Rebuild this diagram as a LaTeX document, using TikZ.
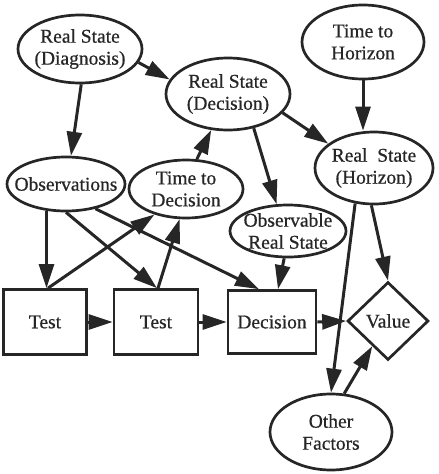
\documentclass[tikz,border=0pt]{standalone}
\usepackage{fontspec}
\setmainfont{Liberation Serif}
\newfontfamily\lblfont[FakeBold=0.6]{Liberation Serif}
\usetikzlibrary{shapes.geometric,arrows.meta,calc}
\definecolor{ink}{RGB}{38,38,38}
\tikzset{
  ell/.style={ellipse,draw=ink,line width=2.7pt,inner sep=0pt},
  box/.style={rectangle,draw=ink,line width=2.7pt,inner sep=0pt},
  dia/.style={diamond,draw=ink,line width=2.7pt,inner sep=0pt},
  lbl/.style={align=center,inner sep=0pt,text=ink,font=\lblfont\fontsize{19.5}{22}\selectfont},
  arr/.style={draw=ink,line width=3pt,-{Triangle[length=24pt,width=15pt]}}
}
\begin{document}
\begin{tikzpicture}[x=1pt,y=-1pt]
\useasboundingbox (0,0) rectangle (439,474);
% nodes
\node[ell,minimum width=124pt,minimum height=68pt,label={[lbl]center:Real State\\(Diagnosis)}] (diag) at (80,49) {};
\node[ell,minimum width=124pt,minimum height=72pt,label={[lbl]center:Real State\\(Decision)}] (decrs) at (228,94) {};
\node[ell,minimum width=122pt,minimum height=74pt,label={[lbl]center:Time to\\Horizon}] (tth) at (363,42) {};
\node[ell,minimum width=118pt,minimum height=72pt,label={[lbl]center:Real\ \ State\\(Horizon)}] (hor) at (374,168) {};
\node[ell,minimum width=118pt,minimum height=54pt,label={[lbl]center:Observations}] (obs) at (66,184) {};
\node[ell,minimum width=114pt,minimum height=58pt,label={[lbl]center:Time to\\Decision}] (ttd) at (186,189) {};
\node[ell,minimum width=116pt,minimum height=52pt,label={[lbl]center:Observable\\Real State}] (obsv) at (288,231) {};
\node[box,minimum width=83pt,minimum height=65pt,label={[lbl]center:Test}] (test1) at (45,322) {};
\node[box,minimum width=84pt,minimum height=65pt,label={[lbl]center:Test}] (test2) at (156,322) {};
\node[box,minimum width=88pt,minimum height=63pt,label={[lbl]center:Decision}] (dec) at (272,322) {};
\node[dia,minimum width=81pt,minimum height=78pt,label={[lbl]center:Value}] (val) at (388,321) {};
\node[ell,minimum width=122pt,minimum height=76pt,label={[lbl]center:Other\\Factors}] (oth) at (331,432) {};
% edges
\draw[arr] (diag.272) -- (obs.80);
\draw[arr] (diag.347) -- (decrs.166);
\draw[arr] (decrs.341) -- (hor.152);
\draw[arr] (decrs.307) -- (obsv.113);
\draw[arr] (tth.south) -- (tth.south |- hor.north);
\draw[arr] (ttd.70) -- (decrs.245);
\draw[arr] (obs.234) -- (obs.234 |- test1.north);
\draw[arr] (obs.south) -- ($(test2.north)+(1,0)$);
\draw[arr] (obs.320) -- ($(dec.north)+(-13,0)$);
\draw[arr] ($(test1.north)+(3,0)$) -- (ttd.219);
\draw[arr] ($(test2.north)+(2,0)$) -- (ttd.258);
\draw[arr] (obsv.262) -- ($(dec.north)+(6,0)$);
\draw[arr] (test1.east) -- (test2.west);
\draw[arr] (test2.east) -- (dec.west);
\draw[arr] (dec.east) -- (val.west);
\draw[arr] (hor.266) -- (val.north);
\draw[arr] (hor.242) -- (oth.north);
\draw[arr] (oth.71) -- (val.238);
\end{tikzpicture}
\end{document}
